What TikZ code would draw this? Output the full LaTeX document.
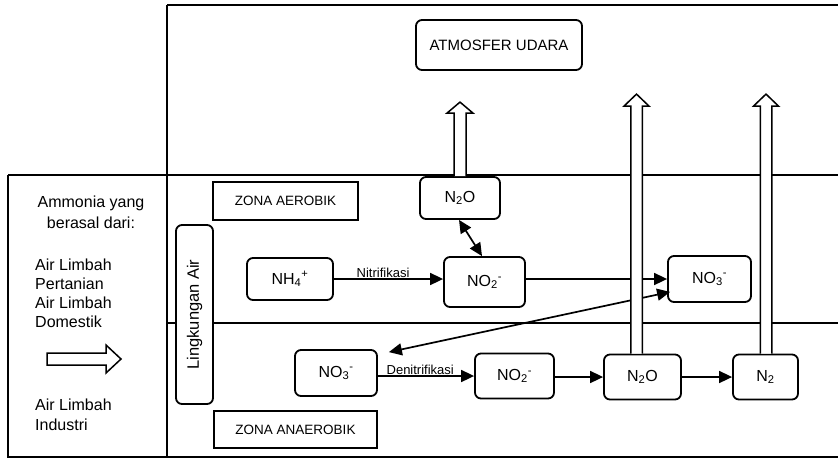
\documentclass[tikz,border=0pt]{standalone}
\usepackage{fontspec}
\setmainfont{Liberation Sans}
\usetikzlibrary{arrows.meta}
\tikzset{
  frame/.style={line width=1.5pt},
  rbox/.style={draw, line width=1.8pt, rounded corners=6pt, fill=white, inner sep=0pt, font=\fontsize{16}{19}\selectfont},
  sbox/.style={draw, line width=1.8pt, fill=white, inner sep=0pt, font=\fontsize{13.5}{15}\selectfont},
  arr/.style={line width=1.7pt, -{Triangle[length=13pt,width=12pt]}},
  dblarr/.style={line width=1.7pt, {Triangle[length=13pt,width=12pt]}-{Triangle[length=13pt,width=12pt]}},
  hollow/.style={draw, line width=1.5pt, fill=white, line join=miter},
  lbl/.style={font=\fontsize{13}{15}\selectfont, inner sep=1pt},
  txt/.style={font=\fontsize{16}{19}\selectfont, inner sep=0pt},
}
\begin{document}
\begin{tikzpicture}[x=1pt,y=-1pt]
\useasboundingbox (0,0) rectangle (838,459);
% frame
\draw[frame] (167,5) -- (838,5);
\draw[frame] (167,5) -- (167,457);
\draw[frame] (8,175) -- (838,175);
\draw[frame] (8,175) -- (8,457) -- (838,457);
\draw[frame] (167,323) -- (838,323);
% left panel
\node[txt, anchor=base] (amm1) at (91,207) {Ammonia yang};
\node[txt, anchor=base] (amm2) at (91,228) {berasal dari:};
\node[txt, anchor=base west] (s1) at (35,270) {Air Limbah};
\node[txt, anchor=base west] (s2) at (35,289) {Pertanian};
\node[txt, anchor=base west] (s3) at (35,308) {Air Limbah};
\node[txt, anchor=base west] (s4) at (35,327) {Domestik};
\node[txt, anchor=base west] (s5) at (35,410) {Air Limbah};
\node[txt, anchor=base west] (s6) at (35,430) {Industri};
\draw[hollow] (47,353) -- (106,353) -- (106,345) -- (121,359) -- (106,373) -- (106,365) -- (47,365) -- cycle;
% nodes
\node[rbox, minimum width=166pt, minimum height=50pt, font=\fontsize{15}{18}\selectfont] (atm) at (499,45) {ATMOSFER UDARA};
\node[sbox, minimum width=145pt, minimum height=38pt] (zonaa) at (285.5,201) {ZONA AEROBIK};
\node[rbox, minimum width=80pt, minimum height=42pt] (n2oa) at (460,198) {N\textsubscript{2}O};
\node[rbox, minimum width=37pt, minimum height=179pt, font=\fontsize{16.5}{19}\selectfont] (ling) at (194.5,314.5) {\rotatebox{90}{Lingkungan Air}};
\node[rbox, minimum width=86pt, minimum height=42pt] (nh4) at (290,279) {NH\textsubscript{4}\textsuperscript{+}};
\node[rbox, minimum width=81pt, minimum height=50pt] (no2a) at (484.5,282) {NO\textsubscript{2}\textsuperscript{-}};
\node[rbox, minimum width=83pt, minimum height=46pt] (no3a) at (709.5,279) {NO\textsubscript{3}\textsuperscript{-}};
\node[rbox, minimum width=82pt, minimum height=46pt] (no3b) at (336,373) {NO\textsubscript{3}\textsuperscript{-}};
\node[rbox, minimum width=79pt, minimum height=45pt] (no2b) at (514.5,376) {NO\textsubscript{2}\textsuperscript{-}};
\node[rbox, minimum width=77pt, minimum height=45pt] (n2ob) at (642.5,377) {N\textsubscript{2}O};
\node[rbox, minimum width=65pt, minimum height=45pt] (n2) at (765.5,377) {N\textsubscript{2}};
\node[sbox, minimum width=163pt, minimum height=37pt] (zonab) at (295.5,429.5) {ZONA ANAEROBIK};
% connectors
\draw[arr] (nh4.east) -- node[lbl, above, pos=0.45] (nitri) {Nitrifikasi} (nh4.east -| no2a.west);
\draw[arr] (no2a.east |- no3a) -- (no3a.west);
\draw[dblarr] ([xshift=-1pt]n2oa.south) -- ([xshift=-2.5pt]no2a.north);
\draw[dblarr] ([xshift=3pt,yshift=11pt]no3a.south west) -- ([xshift=11pt,yshift=-3pt]no3b.north east);
\draw[arr] (no3b.east |- no2b) -- node[lbl, above, pos=0.44] (denitri) {Denitrifikasi} (no2b.west);
\draw[arr] (no2b.east |- n2ob) -- (n2ob.west);
\draw[arr] (n2ob.east) -- (n2.west);
% hollow arrows to atmosphere
\draw[hollow] ([xshift=-6pt]n2oa.north) -- ++(0,-63) -- ++(-7,0) -- ++(13,-11) -- ++(13,11) -- ++(-7,0) -- ([xshift=6pt]n2oa.north);
\draw[hollow] ([xshift=-11.75pt]n2ob.north) -- ++(0,-247.5) -- ++(-6.75,0) -- ++(12.5,-12) -- ++(12.5,12) -- ++(-6.75,0) -- ([xshift=-0.25pt]n2ob.north);
\draw[hollow] ([xshift=-5.25pt]n2.north) -- ++(0,-247.5) -- ++(-6.75,0) -- ++(12.5,-12) -- ++(12.5,12) -- ++(-6.75,0) -- ([xshift=6.25pt]n2.north);
\end{tikzpicture}
\end{document}
